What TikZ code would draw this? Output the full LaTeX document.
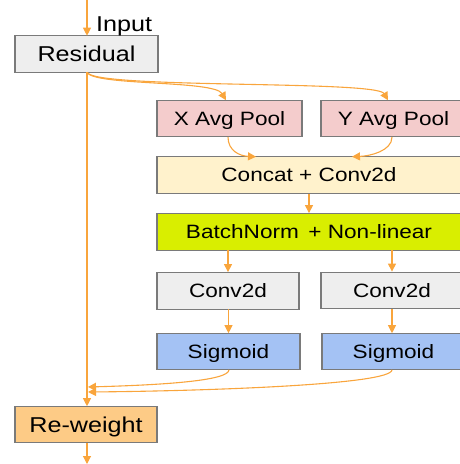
\documentclass[tikz,border=0pt]{standalone}
\usepackage{fontspec}
\setmainfont{Liberation Sans}[FakeStretch=1.17]
\usetikzlibrary{arrows.meta}
\definecolor{edge}{HTML}{7A7A7A}
\definecolor{flow}{HTML}{F9A53C}
\definecolor{greybox}{HTML}{EEEEEE}
\definecolor{pinkbox}{HTML}{F4CCCC}
\definecolor{creambox}{HTML}{FFF2CC}
\definecolor{limebox}{HTML}{D9EE00}
\definecolor{bluebox}{HTML}{A4C2F4}
\definecolor{orangebox}{HTML}{FDCB86}
\tikzset{
  blockbase/.style={draw=edge, line width=1.3pt, inner sep=0pt, anchor=center,
    minimum height=36.5pt, text height=13.8pt, text depth=0pt,
    font=\fontsize{19.3}{22}\selectfont},
  bigblock/.style={blockbase, minimum width=143pt, text height=15.4pt,
    font=\fontsize{21.5}{24}\selectfont},
  narrowblock/.style={blockbase, minimum width=143pt},
  wideblock/.style={blockbase, minimum width=304pt},
  link/.style={draw=flow, line width=1.1pt, -{Triangle[length=8pt,width=8pt]}},
}
\begin{document}
\begin{tikzpicture}[x=1pt,y=-1pt]
\useasboundingbox (0,0) rectangle (460,464);

% blocks
\node[bigblock, fill=greybox] (res) at (86.5,54) {Residual};
\node[narrowblock, fill=pinkbox, minimum width=145pt] (xpool) at (229.5,118.5) {X Avg Pool};
\node[narrowblock, fill=pinkbox, minimum width=145pt] (ypool) at (393.5,118.5) {Y Avg Pool};
\node[wideblock, fill=creambox] (cat) at (309,175) {Concat + Conv2d};
\node[wideblock, fill=limebox] (bn) at (309,232) {BatchNorm\, + Non-linear};
\node[narrowblock, fill=greybox, minimum width=142pt] (convx) at (228,291) {Conv2d};
\node[narrowblock, fill=greybox, minimum width=142pt] (convy) at (392,290.5) {Conv2d};
\node[narrowblock, fill=bluebox] (sigx) at (228.5,351.5) {Sigmoid};
\node[narrowblock, fill=bluebox] (sigy) at (393.5,351.5) {Sigmoid};
\node[bigblock, fill=orangebox, minimum width=142pt] (rew) at (86,424.5) {Re-weight};

\node[anchor=base west, inner sep=0pt, font=\fontsize{21.5}{24}\selectfont] (inlabel) at (96,31) {Input};

\coordinate (src) at (87,0);
\coordinate (sink) at (87,464);
\coordinate (tap) at (87,72.3);

% main path
\draw[link] (src) -- (87,35.7);
\draw[link] (tap) -- (87,406.2);
\draw[link] (87,442.8) -- (sink);

% residual to the two pooling branches
\draw[link] (tap) .. controls (94,86) and (214,80) .. (226,100.2);
\draw[link] (tap) .. controls (94,89) and (376,80) .. (388,100.2);

% pools into concat
\draw[link] (228,137) .. controls (228,151) and (240,156) .. (256,156.7);
\draw[link] (392,137) .. controls (392,151) and (370,156) .. (352,156.7);

% concat to batchnorm
\draw[link] (cat.south) -- (bn.north);

% batchnorm to the two conv heads
\draw[link] (228,250.3) -- (convx.north);
\draw[link] (392,250.3) -- (convy.north);

% conv to sigmoid
\draw[link] (228.5,309.3) -- (228.5,333.2);
\draw[link] (392,308.8) -- (392,333.2);

% sigmoid outputs back to the re-weight path
\draw[link] (229,369.8) .. controls (229,381) and (160,385) .. (88,387);
\draw[link] (392,369.8) .. controls (392,385) and (200,391) .. (88,392);
\end{tikzpicture}
\end{document}
